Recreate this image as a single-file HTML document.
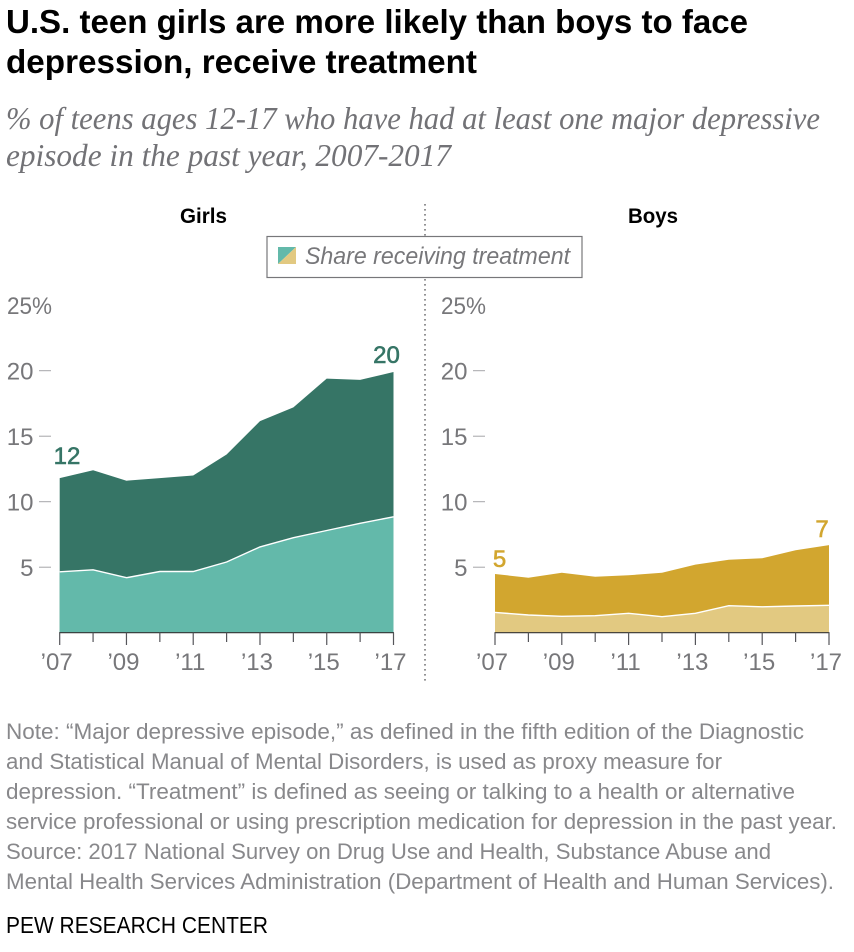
<!DOCTYPE html>
<html lang="en">
<head>
<meta charset="utf-8">
<title>U.S. teen girls are more likely than boys to face depression, receive treatment</title>
<style>
html,body{margin:0;padding:0;background:#fff;width:854px;height:952px;overflow:hidden}
svg{display:block}
text{font-family:"Liberation Sans",sans-serif}
.title{font-weight:700;font-size:33px;fill:#000}
.sub{font-family:"Liberation Serif",serif;font-style:italic;font-size:32px;fill:#727276}
.note{font-size:22.5px;fill:#88888b}
.axis{font-size:24px;fill:#77777a}
.head{font-weight:700;font-size:21px;fill:#000}
</style>
</head>
<body>
<svg id="chart" xmlns="http://www.w3.org/2000/svg" width="854" height="952" viewBox="0 0 854 952">
  <text class="title" x="6" y="33" textLength="742" lengthAdjust="spacingAndGlyphs">U.S. teen girls are more likely than boys to face</text>
  <text class="title" x="6" y="73" textLength="471" lengthAdjust="spacingAndGlyphs">depression, receive treatment</text>
  <text class="sub" x="6" y="129" textLength="814" lengthAdjust="spacingAndGlyphs">% of teens ages 12-17 who have had at least one major depressive</text>
  <text class="sub" x="6" y="166" textLength="445" lengthAdjust="spacingAndGlyphs">episode in the past year, 2007-2017</text>

  <line x1="425" y1="204" x2="425" y2="681" stroke="#77777a" stroke-width="1.6" stroke-dasharray="1.6 3.4"/>
  <text class="head" x="180" y="223" textLength="47" lengthAdjust="spacingAndGlyphs">Girls</text>
  <text class="head" x="628" y="223" textLength="50" lengthAdjust="spacingAndGlyphs">Boys</text>

  <g id="girls-panel"></g>
  <g id="boys-panel"></g>

  <g>
    <rect x="267" y="236.5" width="315" height="41" fill="#fff" stroke="#77777a" stroke-width="1.2"/>
    <polygon points="278,247 296,247 278,264" fill="#63b9aa"/>
    <polygon points="296,247 296,264 278,264" fill="#e2c981"/>
    <text x="305" y="264" font-size="24" font-style="italic" fill="#77777a" textLength="265" lengthAdjust="spacingAndGlyphs">Share receiving treatment</text>
  </g>

  <g>
    <text class="note" x="6" y="739" textLength="798" lengthAdjust="spacingAndGlyphs">Note: “Major depressive episode,” as defined in the fifth edition of the Diagnostic</text>
    <text class="note" x="6" y="769" textLength="716" lengthAdjust="spacingAndGlyphs">and Statistical Manual of Mental Disorders, is used as proxy measure for</text>
    <text class="note" x="6" y="799" textLength="789" lengthAdjust="spacingAndGlyphs">depression. “Treatment” is defined as seeing or talking to a health or alternative</text>
    <text class="note" x="6" y="829" textLength="831" lengthAdjust="spacingAndGlyphs">service professional or using prescription medication for depression in the past year.</text>
    <text class="note" x="6" y="859" textLength="765" lengthAdjust="spacingAndGlyphs">Source: 2017 National Survey on Drug Use and Health, Substance Abuse and</text>
    <text class="note" x="6" y="889" textLength="828" lengthAdjust="spacingAndGlyphs">Mental Health Services Administration (Department of Health and Human Services).</text>
  </g>
  <text x="6" y="933" font-size="23" fill="#000" textLength="262" lengthAdjust="spacingAndGlyphs">PEW RESEARCH CENTER</text>
</svg>
<script>
const years = [2007, 2008, 2009, 2010, 2011, 2012, 2013, 2014, 2015, 2016, 2017];
const yTicks = [5, 10, 15, 20];
const yTopTick = 25;
const xTickLabels = ["’07", "’09", "’11", "’13", "’15", "’17"];
const xTickLabelYears = [2007, 2009, 2011, 2013, 2015, 2017];
const girlsDepression = [11.8, 12.4, 11.6, 11.8, 12.0, 13.6, 16.15, 17.2, 19.4, 19.3, 19.9];
const girlsTreatment = [4.65, 4.8, 4.2, 4.67, 4.67, 5.4, 6.55, 7.25, 7.8, 8.35, 8.85];
const boysDepression = [4.48, 4.2, 4.58, 4.27, 4.38, 4.58, 5.2, 5.57, 5.68, 6.29, 6.69];
const boysTreatment = [1.55, 1.35, 1.25, 1.3, 1.48, 1.22, 1.48, 2.06, 1.98, 2.04, 2.09];
const girlsEndLabels = ["12", "20"];
const boysEndLabels = ["5", "7"];

const NS = 'http://www.w3.org/2000/svg';
const BASE_Y = 632.7;
const PX_PER_UNIT = 13.1;
function yScale(v) { return BASE_Y - v * PX_PER_UNIT; }

function make(parent, tag, attrs, text) {
  const el = document.createElementNS(NS, tag);
  for (const k in attrs) el.setAttribute(k, attrs[k]);
  if (text !== undefined) el.textContent = text;
  parent.appendChild(el);
  return el;
}

function drawPanel(cfg) {
  const g = document.getElementById(cfg.id);
  const xScale = y => cfg.x0 + (y - years[0]) * (cfg.x1 - cfg.x0) / (years[years.length - 1] - years[0]);
  const pts = arr => arr.map((v, i) => xScale(years[i]).toFixed(1) + ',' + yScale(v).toFixed(1)).join(' ');
  const baseCorners = xScale(years[years.length - 1]).toFixed(1) + ',' + BASE_Y + ' ' + xScale(years[0]).toFixed(1) + ',' + BASE_Y;

  const dark = make(g, 'polygon', { points: pts(cfg.total) + ' ' + baseCorners, fill: cfg.dark });
  
  

  const light = make(g, 'polygon', { points: pts(cfg.treated) + ' ' + baseCorners, fill: cfg.light });
  
  

  const line = make(g, 'polyline', { points: pts(cfg.treated), fill: 'none', stroke: '#fff', 'stroke-width': 1.4 });
  
  

  yTicks.forEach(t => {
    const label = make(g, 'text', { class: 'axis', x: cfg.yLabelX, y: yScale(t) + 9, 'text-anchor': 'end' }, String(t));
    
    
    const tick = make(g, 'line', { x1: cfg.yTickX, x2: cfg.yTickX + 12, y1: yScale(t), y2: yScale(t), stroke: '#a5a5a8', 'stroke-width': 1 });
    
    
  });
  const top = make(g, 'text', { class: 'axis', x: cfg.yLabelX - 26.5, y: yScale(yTopTick) + 9, textLength: 45, lengthAdjust: 'spacingAndGlyphs' }, yTopTick + '%');
  
  

  const axis = make(g, 'line', { x1: xScale(years[0]) - 0.5, x2: xScale(years[years.length - 1]) + 0.5, y1: BASE_Y, y2: BASE_Y, stroke: '#333', 'stroke-width': 1.2 });
  
  

  years.forEach(y => {
    const long = xTickLabelYears.includes(y);
    const tick = make(g, 'line', { x1: xScale(y), x2: xScale(y), y1: BASE_Y, y2: long ? 645 : 642, stroke: '#55555a', 'stroke-width': 1.2 });
    
    
  });

  xTickLabels.forEach((t, i) => {
    const label = make(g, 'text', { class: 'axis', x: xScale(xTickLabelYears[i]) - 3, y: 670, 'text-anchor': 'middle' }, t);
    
    
  });

  const first = make(g, 'text', { x: cfg.firstLabelX, y: yScale(cfg.total[0]) + cfg.firstLabelDy, 'font-size': 24, 'font-weight': 400, fill: cfg.dark, stroke: cfg.dark, 'stroke-width': 0.6, 'text-anchor': 'middle' }, cfg.endLabels[0]);
  
  

  const last = make(g, 'text', { x: cfg.lastLabelX, y: yScale(cfg.total[cfg.total.length - 1]) + cfg.lastLabelDy, 'font-size': 24, 'font-weight': 400, fill: cfg.dark, stroke: cfg.dark, 'stroke-width': 0.6, 'text-anchor': 'middle' }, cfg.endLabels[1]);
  
  
}

drawPanel({
  id: 'girls-panel', name: 'girls', x0: 59.7, x1: 393.5,
  total: girlsDepression, treated: girlsTreatment, endLabels: girlsEndLabels,
  dark: '#367566', light: '#63b9aa',
  yLabelX: 33.5, yTickX: 39,
  firstLabelX: 67, firstLabelDy: -14, lastLabelX: 386.5, lastLabelDy: -9
});
drawPanel({
  id: 'boys-panel', name: 'boys', x0: 495, x1: 829,
  total: boysDepression, treated: boysTreatment, endLabels: boysEndLabels,
  dark: '#d2a62f', light: '#e2c981',
  yLabelX: 467.5, yTickX: 473,
  firstLabelX: 499.5, firstLabelDy: -7, lastLabelX: 822, lastLabelDy: -8
});
</script>
</body>
</html>
